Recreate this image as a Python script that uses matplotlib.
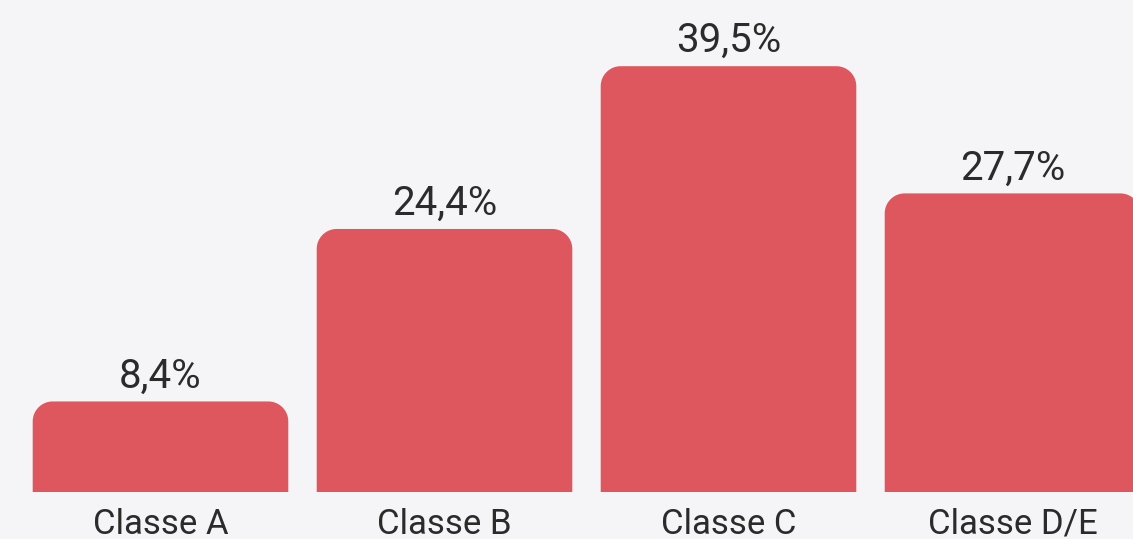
import matplotlib
matplotlib.use("Agg")
import numpy as np
import matplotlib.pyplot as plt
from matplotlib.patches import Polygon

categories = ["Classe A", "Classe B", "Classe C", "Classe D/E"]
values = [8.4, 24.4, 39.5, 27.7]
labels = ["8,4%", "24,4%", "39,5%", "27,7%"]

bg = "#f5f5f7"
bar_color = "#df575e"
txt_color = "#2b2b2b"

W, H = 1133, 539
fig = plt.figure(figsize=(W / 100, H / 100), dpi=100, facecolor=bg)
# baseline at y=492 px, bars spaced 284 px apart
left = 18.5 / W
width = 4 * 284 / W
bottom = (H - 492) / H
ax = fig.add_axes([left, bottom, width, 1 - bottom])
ax.set_facecolor(bg)
px_per_unit = 10.78
ax.set_xlim(-0.5, 3.5)
ax.set_ylim(0, 492 / px_per_unit)
ax.axis("off")

bw = 0.9
r_px = 20
rx = r_px / 284
ry = r_px / px_per_unit
t = np.linspace(0, np.pi / 2, 20)


def top_rounded(x0, w, h):
    # left-bottom -> left-top arc -> right-top arc -> right-bottom
    pts = [(x0, 0)]
    for a in t:
        pts.append((x0 + rx - rx * np.cos(a), h - ry + ry * np.sin(a)))
    for a in t:
        pts.append((x0 + w - rx + rx * np.sin(a), h - ry + ry * np.cos(a)))
    pts.append((x0 + w, 0))
    return pts


for i, v in enumerate(values):
    ax.add_patch(Polygon(top_rounded(i - bw / 2, bw, v), closed=True,
                         fc=bar_color, ec="none", clip_on=False))
    ax.text(i, v + 14 / px_per_unit, labels[i], ha="center", va="baseline",
            fontsize=29, color=txt_color, family="Roboto", clip_on=False)
    ax.text(i, -42 / px_per_unit, categories[i], ha="center", va="baseline",
            fontsize=25, color=txt_color, family="Roboto", clip_on=False)

fig.savefig("out.png", dpi=100, facecolor=bg)
